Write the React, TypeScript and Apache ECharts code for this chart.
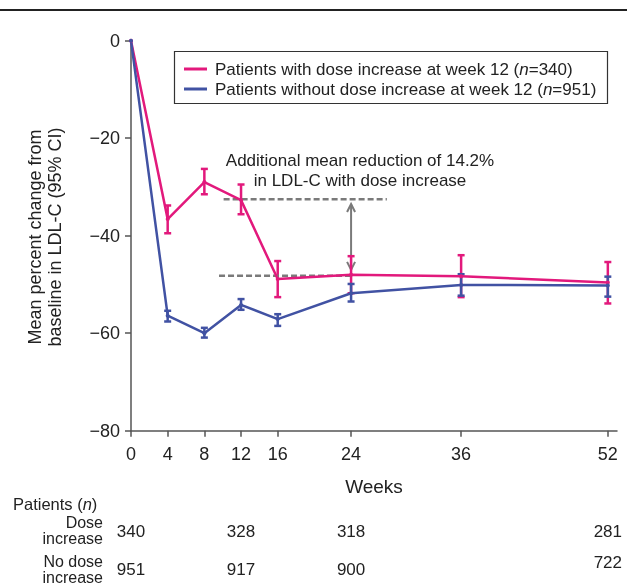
import React, { useEffect, useRef } from 'react';
import * as echarts from 'echarts';

const weeks = [0, 4, 8, 12, 16, 24, 36, 52];
const doseMean = [0, -36.6, -29.0, -32.7, -48.9, -48.0, -48.3, -49.6];
const doseLow = [0, -39.5, -31.5, -35.6, -52.6, -51.8, -52.6, -53.9];
const doseHigh = [0, -33.8, -26.3, -29.5, -45.2, -44.2, -44.0, -45.4];
const noDoseMean = [0, -56.4, -60.0, -54.2, -57.1, -51.8, -50.1, -50.2];
const noDoseLow = [0, -57.6, -60.9, -55.2, -58.5, -53.5, -52.3, -52.5];
const noDoseHigh = [0, -55.4, -58.9, -53.0, -56.1, -49.9, -47.9, -48.4];
const xTicks = [0, 4, 8, 12, 16, 24, 36, 52];
const tableWeeks = [0, 12, 24, 52];
const doseN = [340, 328, 318, 281];
const noDoseN = [951, 917, 900, 722];
const seriesNames = [
  'Patients with dose increase at week 12 (n=340)',
  'Patients without dose increase at week 12 (n=951)',
];
const refUpper = [[10.1, -32.5], [27.9, -32.5]];
const refLower = [[9.6, -48.2], [24, -48.2]];
const arrowData = [[24, -33.5, -47.0]];
const annotation = ['Additional mean reduction of 14.2%', 'in LDL-C with dose increase'];

const PINK = '#E2197C';
const BLUE = '#4152A3';
const GREY = '#7a7a7a';
const TXT = '#222';
const FONT = '"Liberation Sans", Arial, Helvetica, sans-serif';

function errorBar(color: string) {
  return (params: any, api: any) => {
    const x = api.value(0);
    const lo = api.coord([x, api.value(1)]);
    const hi = api.coord([x, api.value(2)]);
    const hw = 3.5;
    const st = { stroke: color, lineWidth: 2.5 };
    return {
      type: 'group',
      children: [
        { type: 'line', shape: { x1: lo[0], y1: lo[1], x2: hi[0], y2: hi[1] }, style: st },
        { type: 'line', shape: { x1: lo[0] - hw, y1: lo[1], x2: lo[0] + hw, y2: lo[1] }, style: st },
        { type: 'line', shape: { x1: hi[0] - hw, y1: hi[1], x2: hi[0] + hw, y2: hi[1] }, style: st },
      ],
    };
  };
}

function arrowItem(params: any, api: any) {
  const x = api.value(0);
  const t = api.coord([x, api.value(1)]);
  const b = api.coord([x, api.value(2)]);
  const st = { stroke: GREY, lineWidth: 2, fill: 'none' };
  const hw = 4, hl = 8;
  return {
    type: 'group',
    children: [
      { type: 'line', shape: { x1: t[0], y1: t[1], x2: b[0], y2: b[1] }, style: st },
      { type: 'polyline', shape: { points: [[t[0] - hw, t[1] + hl], [t[0], t[1]], [t[0] + hw, t[1] + hl]] }, style: st },
      { type: 'polyline', shape: { points: [[b[0] - hw, b[1] - hl], [b[0], b[1]], [b[0] + hw, b[1] - hl]] }, style: st },
    ],
  };
}

export default function App() {
  const ref = useRef<HTMLDivElement>(null);
  useEffect(() => {
    if (!ref.current) return;
    const chart = echarts.init(ref.current, undefined, { renderer: 'svg' });
    const barsDose = weeks.slice(1).map((w, i) => [w, doseLow[i + 1], doseHigh[i + 1]]);
    const barsNo = weeks.slice(1).map((w, i) => [w, noDoseLow[i + 1], noDoseHigh[i + 1]]);
    const axisLine = { show: true, onZero: false, lineStyle: { color: '#555', width: 1.5 } };
    chart.setOption({
      animation: false,
      textStyle: { fontFamily: FONT },
      grid: { left: 131, right: 10, top: 40.7, bottom: 155.3, containLabel: false },
      legend: {
        data: seriesNames,
        orient: 'vertical',
        left: 184,
        top: 59,
        padding: 0,
        itemGap: 0,
        itemWidth: 23,
        itemHeight: 3,
        icon: 'rect',
        formatter: (name: string) => '{sp|}' + name.replace('(n=', '({i|n}='),
        textStyle: {
          fontSize: 17,
          color: TXT,
          lineHeight: 20,
          fontFamily: FONT,
          rich: {
            sp: { width: 3 },
            i: { fontStyle: 'italic', fontSize: 17, color: TXT, fontFamily: FONT },
          },
        },
      },
      xAxis: {
        type: 'value',
        min: 0,
        max: 53,
        axisLine,
        splitLine: { show: false },
        axisTick: { show: true, customValues: xTicks, length: 6, lineStyle: { color: '#555', width: 1.5 } },
        axisLabel: { customValues: xTicks, fontSize: 18, color: TXT, margin: 14, fontFamily: FONT },
        name: 'Weeks',
        nameLocation: 'middle',
        nameGap: 46,
        nameTextStyle: { fontSize: 19, color: TXT, fontFamily: FONT },
      },
      yAxis: {
        type: 'value',
        min: -80,
        max: 0,
        interval: 20,
        axisLine,
        splitLine: { show: false },
        axisTick: { show: true, length: 6, lineStyle: { color: '#555', width: 1.5 } },
        axisLabel: {
          fontSize: 18,
          color: TXT,
          margin: 11,
          fontFamily: FONT,
          formatter: (v: number) => String(v).replace('-', '\u2212'),
        },
      },
      series: [
        {
          type: 'line',
          name: 'refUpper',
          data: refUpper,
          symbol: 'none',
          lineStyle: { color: GREY, width: 2.5, type: [6, 3] },
          silent: true,
        },
        {
          type: 'line',
          name: 'refLower',
          data: refLower,
          symbol: 'none',
          lineStyle: { color: GREY, width: 2.5, type: [6, 3] },
          silent: true,
        },
        {
          type: 'custom',
          name: 'arrow',
          data: arrowData,
          renderItem: arrowItem,
          encode: { x: 0, y: [1, 2] },
          silent: true,
        },
        {
          type: 'line',
          name: seriesNames[0],
          data: weeks.map((w, i) => [w, doseMean[i]]),
          color: PINK,
          symbol: 'circle',
          symbolSize: 4,
          lineStyle: { color: PINK, width: 2.5 },
          itemStyle: { color: PINK },
        },
        {
          type: 'custom',
          name: 'doseCI',
          data: barsDose,
          renderItem: errorBar(PINK),
          encode: { x: 0, y: [1, 2] },
        },
        {
          type: 'line',
          name: seriesNames[1],
          data: weeks.map((w, i) => [w, noDoseMean[i]]),
          color: BLUE,
          symbol: 'circle',
          symbolSize: 4,
          lineStyle: { color: BLUE, width: 2.5 },
          itemStyle: { color: BLUE },
        },
        {
          type: 'custom',
          name: 'noDoseCI',
          data: barsNo,
          renderItem: errorBar(BLUE),
          encode: { x: 0, y: [1, 2] },
        },
      ],
    });

    const txt = (id: string, text: string, x: number, y: number, align: string, extra: any = {}) => ({
      type: 'text',
      id,
      x,
      y,
      style: { text, fill: TXT, fontSize: 17, fontFamily: FONT, align, verticalAlign: 'middle', ...extra },
      silent: true,
    });
    const small = { fontSize: 16, lineHeight: 16 };

    const graphics: any[] = [
      { type: 'rect', id: 'topRule', shape: { x: 0, y: 9, width: 627, height: 2 }, style: { fill: '#222' }, silent: true },
      {
        type: 'rect',
        id: 'legendBox',
        shape: { x: 174.5, y: 51.5, width: 433, height: 52 },
        style: { fill: 'none', stroke: '#333', lineWidth: 1.2 },
        silent: true,
      },
      txt('ann', annotation.join('\n'), 360, 170, 'center', { lineHeight: 20 }),
      {
        type: 'text',
        id: 'yTitle',
        x: 45,
        y: 237,
        rotation: Math.PI / 2,
        style: {
          text: 'Mean percent change from\nbaseline in LDL-C (95% CI)',
          fill: TXT,
          fontSize: 18,
          fontFamily: FONT,
          align: 'center',
          verticalAlign: 'middle',
          lineHeight: 20,
        },
        silent: true,
      },
      {
        type: 'text',
        id: 'patients',
        x: 13,
        y: 504,
        style: {
          text: 'Patients ({i|n})',
          fill: TXT,
          fontSize: 16.5,
          lineHeight: 15,
          fontFamily: FONT,
          align: 'left',
          verticalAlign: 'middle',
          rich: { i: { fontStyle: 'italic', fontSize: 16.5, lineHeight: 15, fontFamily: FONT, fill: TXT } },
        },
        silent: true,
      },
      txt('dose1', 'Dose', 103, 522.5, 'right', small),
      txt('dose2', 'increase', 103, 538.5, 'right', small),
      txt('nodose1', 'No dose', 103, 561, 'right', small),
      txt('nodose2', 'increase', 103, 577, 'right', small),
    ];
    tableWeeks.forEach((w, i) => {
      const px = chart.convertToPixel({ xAxisIndex: 0 }, w) as number;
      graphics.push(txt('dn' + i, String(doseN[i]), px, 531, 'center'));
      const yNo = i === tableWeeks.length - 1 ? 562 : 569;
      graphics.push(txt('nn' + i, String(noDoseN[i]), px, yNo, 'center'));
    });
    chart.setOption({ graphic: graphics });

    return () => chart.dispose();
  }, []);

  return <div ref={ref} style={{ position: 'fixed', left: 0, top: 0, width: 627, height: 586 }} />;
}
